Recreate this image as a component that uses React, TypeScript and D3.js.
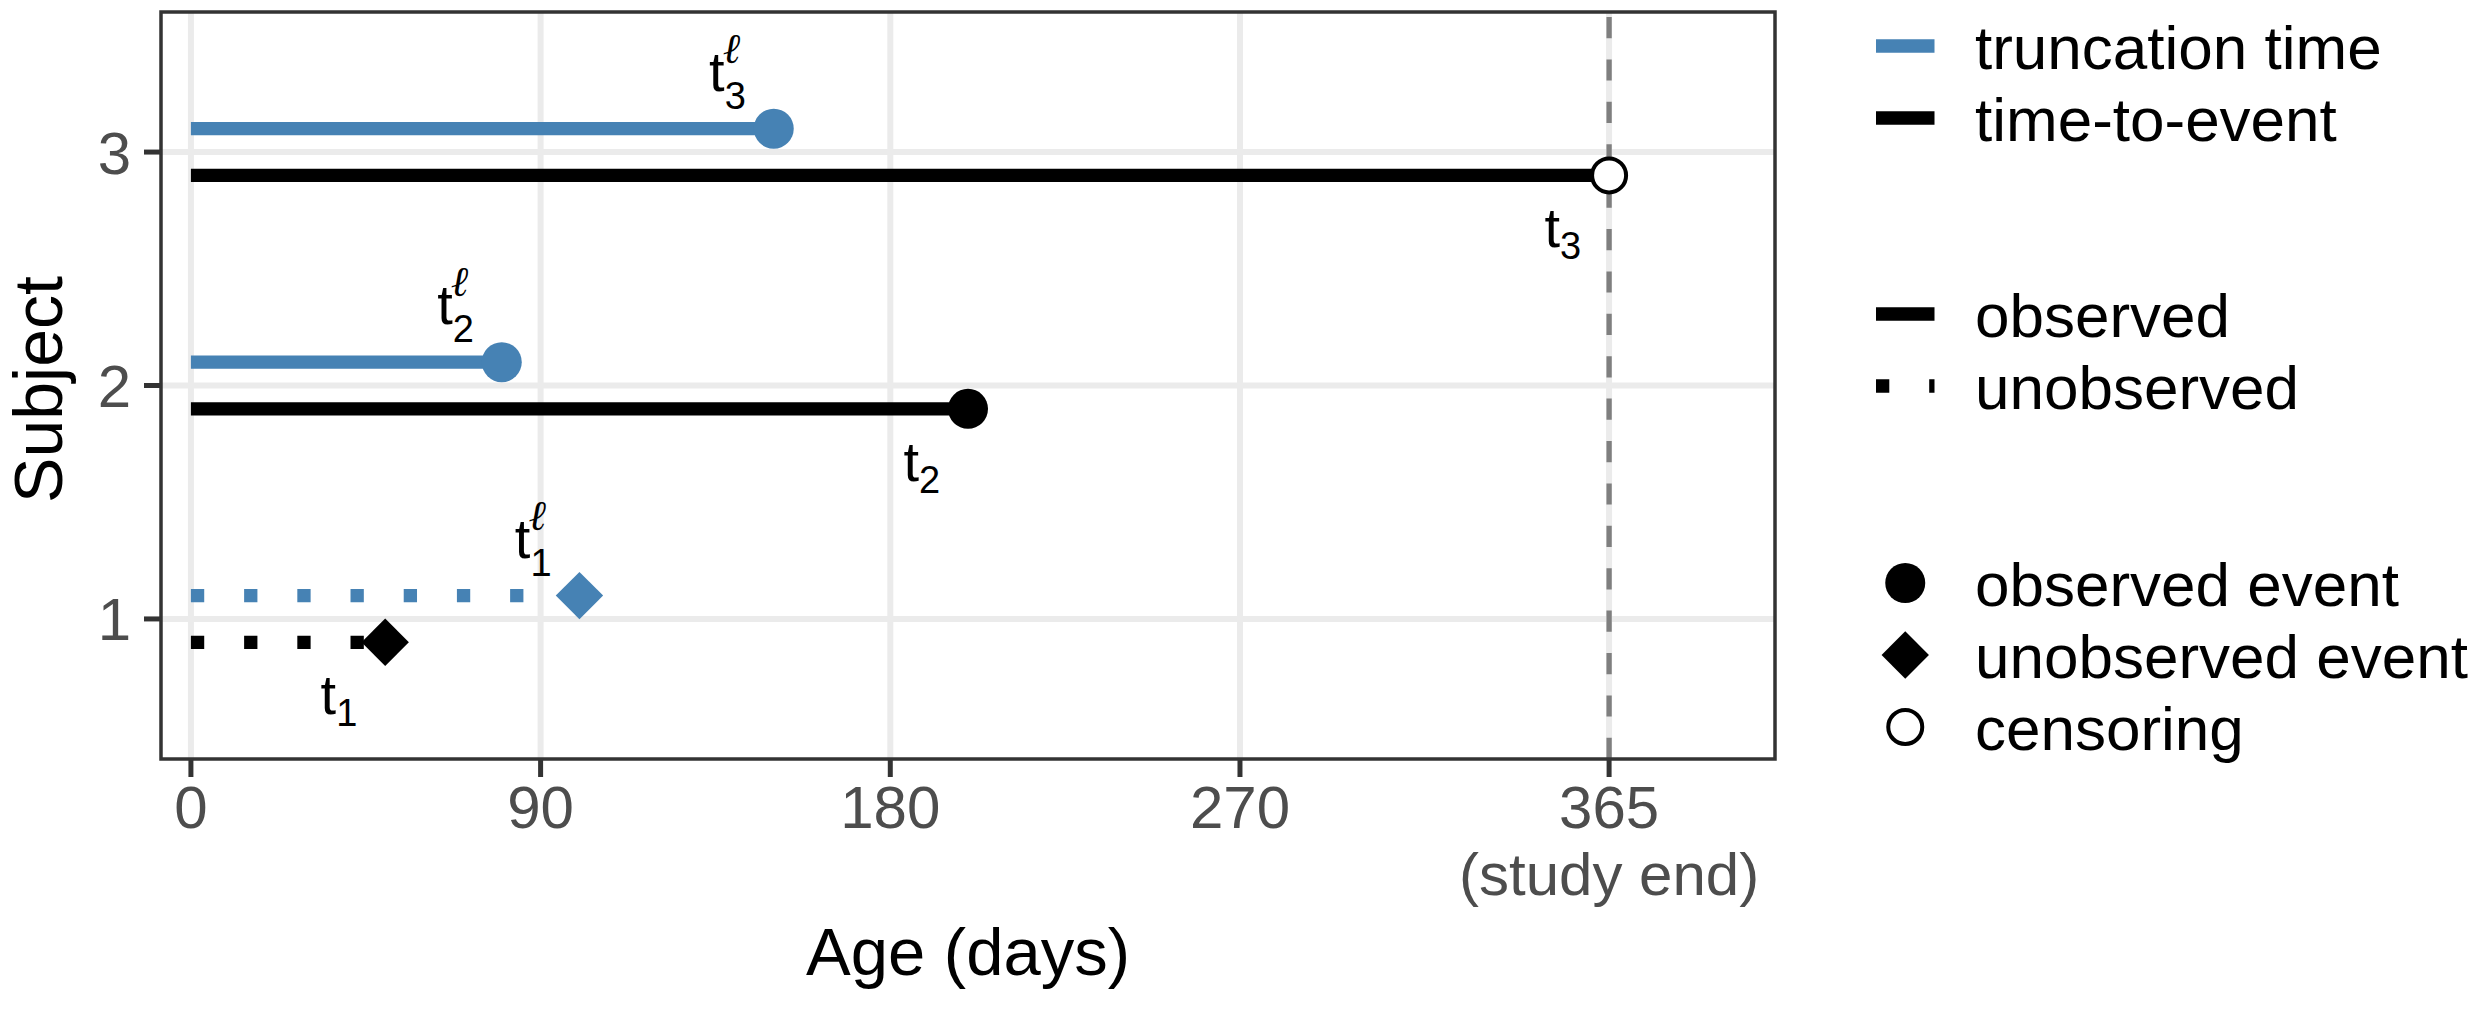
import React from "react";
import * as d3 from "d3";

// subjects and their times (days)
const subjects = [1, 2, 3];
const truncTimes = [100, 80, 150];
const eventTimes = [50, 200, 365];
const lineTypes = ["unobserved", "observed", "observed"];
const eventTypes = ["unobserved event", "observed event", "censoring"];

const xTicks = [0, 90, 180, 270, 365];
const xTickLabels = ["0", "90", "180", "270", "365"];
const yTicks = [1, 2, 3];
const studyEnd = 365;

const legendColour = ["truncation time", "time-to-event"];
const legendLine = ["observed", "unobserved"];
const legendShape = ["observed event", "unobserved event", "censoring"];

const BLUE = "#4682B4";
const FONT = "Liberation Sans, Arial, Helvetica, sans-serif";

const W = 2482;
const H = 1012;
const panel = { left: 161, right: 1775, top: 12, bottom: 759 };

function Marker(props: { shape: string; x: number; y: number; color: string }) {
  const { shape, x, y, color } = props;
  if (shape === "unobserved event") {
    const d = d3.symbol().type(d3.symbolSquare).size(33.5 * 33.5)();
    return <path d={d || ""} transform={`translate(${x},${y}) rotate(45)`} fill={color} />;
  }
  if (shape === "censoring") {
    return <circle cx={x} cy={y} r={17} fill="#ffffff" stroke="#000000" strokeWidth={4} />;
  }
  return <circle cx={x} cy={y} r={20} fill={color} />;
}

// t with subscript, and optionally the script-l superscript
function MathLabel(props: { x: number; y: number; sub: string; sup?: boolean }) {
  const { x, y, sub, sup } = props;
  const tW = 15.6;
  return (
    <g fill="#000000">
      <text x={x} y={y} fontFamily={FONT} fontSize={56}>
        t
        <tspan x={x + tW} dy={sup ? 18 : 12} fontSize={38}>
          {sub}
        </tspan>
      </text>
      {sup && (
        <text x={x + tW - 2} y={y - 28} fontFamily="DejaVu Serif, serif" fontStyle="italic" fontSize={42}>
          ℓ
        </text>
      )}
    </g>
  );
}

export default function App() {
  const x = d3.scaleLinear().domain([-7.7, 407.7]).range([panel.left, panel.right]);
  const y = d3.scaleLinear().domain([0.4, 3.6]).range([panel.bottom, panel.top]);
  const offset = 0.1;
  const labelNudge = 12;
  const lw = 13.3;
  const dotted = `${lw} ${lw * 3}`;

  const legendX0 = 1876;
  const legendX1 = 1934.5;
  const legendTextX = 1975;
  const rowsColour = [46, 118];
  const rowsLine = [314, 386];
  const rowsShape = [583, 655, 727];

  return (
    <svg width={W} height={H} style={{ position: "absolute", left: 0, top: 0 }}>
      <rect x={0} y={0} width={W} height={H} fill="#ffffff" />

      {/* grid */}
      {xTicks.map((t) => (
        <line key={"gx" + t} x1={x(t)} x2={x(t)} y1={panel.top} y2={panel.bottom} stroke="#EBEBEB" strokeWidth={6} />
      ))}
      {yTicks.map((t) => (
        <line key={"gy" + t} x1={panel.left} x2={panel.right} y1={y(t)} y2={y(t)} stroke="#EBEBEB" strokeWidth={6} />
      ))}

      {/* study end */}
      <line
        x1={x(studyEnd)}
        x2={x(studyEnd)}
        y1={panel.bottom}
        y2={panel.top}
        stroke="#7F7F7F"
        strokeWidth={5.3}
        strokeDasharray="21.2 21.2"
      />

      {/* segments */}
      {subjects.map((s, i) => (
        <g key={"seg" + s}>
          <line
            x1={x(0)}
            x2={x(truncTimes[i])}
            y1={y(s + offset)}
            y2={y(s + offset)}
            stroke={BLUE}
            strokeWidth={lw}
            strokeDasharray={lineTypes[i] === "unobserved" ? dotted : undefined}
          />
          <line
            x1={x(0)}
            x2={x(eventTimes[i])}
            y1={y(s - offset)}
            y2={y(s - offset)}
            stroke="#000000"
            strokeWidth={lw}
            strokeDasharray={lineTypes[i] === "unobserved" ? dotted : undefined}
          />
        </g>
      ))}

      {/* points */}
      {subjects.map((s, i) => (
        <g key={"pt" + s}>
          <Marker
            shape={eventTypes[i] === "censoring" ? "observed event" : eventTypes[i]}
            x={x(truncTimes[i])}
            y={y(s + offset)}
            color={BLUE}
          />
          <Marker shape={eventTypes[i]} x={x(eventTimes[i])} y={y(s - offset)} color="#000000" />
        </g>
      ))}

      {/* labels */}
      {subjects.map((s, i) => (
        <g key={"lab" + s}>
          <MathLabel x={x(truncTimes[i] - labelNudge) - 18} y={y(s + offset) - 38} sub={String(s)} sup />
          <MathLabel x={x(eventTimes[i] - labelNudge) - 18} y={y(s - offset) + 72} sub={String(s)} />
        </g>
      ))}

      {/* panel border */}
      <rect
        x={panel.left}
        y={panel.top}
        width={panel.right - panel.left}
        height={panel.bottom - panel.top}
        fill="none"
        stroke="#333333"
        strokeWidth={3.5}
      />

      {/* x axis */}
      {xTicks.map((t, i) => (
        <g key={"xt" + t}>
          <line x1={x(t)} x2={x(t)} y1={panel.bottom} y2={panel.bottom + 18} stroke="#333333" strokeWidth={5} />
          <text x={x(t)} y={828} textAnchor="middle" fontFamily={FONT} fontSize={60} fill="#4D4D4D">
            {xTickLabels[i]}
          </text>
        </g>
      ))}
      <text x={x(studyEnd)} y={895} textAnchor="middle" fontFamily={FONT} fontSize={60} fill="#4D4D4D">
        (study end)
      </text>
      <text x={(panel.left + panel.right) / 2} y={975} textAnchor="middle" fontFamily={FONT} fontSize={67} fill="#000000">
        Age (days)
      </text>

      {/* y axis */}
      {yTicks.map((t) => (
        <g key={"yt" + t}>
          <line x1={panel.left - 17} x2={panel.left} y1={y(t)} y2={y(t)} stroke="#333333" strokeWidth={5} />
          <text x={131} y={y(t) + 21.5} textAnchor="end" fontFamily={FONT} fontSize={60} fill="#4D4D4D">
            {t}
          </text>
        </g>
      ))}
      <text
        transform={`translate(62,${(panel.top + panel.bottom) / 2 + 4}) rotate(-90)`}
        textAnchor="middle"
        fontFamily={FONT}
        fontSize={68}
        fill="#000000"
      >
        Subject
      </text>

      {/* legend */}
      {legendColour.map((lab, i) => (
        <g key={"lc" + lab}>
          <line x1={legendX0} x2={legendX1} y1={rowsColour[i]} y2={rowsColour[i]} stroke={i === 0 ? BLUE : "#000000"} strokeWidth={lw} />
          <text x={legendTextX} y={rowsColour[i] + 23} fontFamily={FONT} fontSize={62}>
            {lab}
          </text>
        </g>
      ))}
      {legendLine.map((lab, i) => (
        <g key={"ll" + lab}>
          <line
            x1={legendX0}
            x2={legendX1}
            y1={rowsLine[i]}
            y2={rowsLine[i]}
            stroke="#000000"
            strokeWidth={lw}
            strokeDasharray={lab === "unobserved" ? dotted : undefined}
          />
          <text x={legendTextX} y={rowsLine[i] + 23} fontFamily={FONT} fontSize={62}>
            {lab}
          </text>
        </g>
      ))}
      {legendShape.map((lab, i) => (
        <g key={"ls" + lab}>
          <Marker shape={lab} x={(legendX0 + legendX1) / 2} y={rowsShape[i]} color="#000000" />
          <text x={legendTextX} y={rowsShape[i] + 23} fontFamily={FONT} fontSize={62}>
            {lab}
          </text>
        </g>
      ))}
    </svg>
  );
}
